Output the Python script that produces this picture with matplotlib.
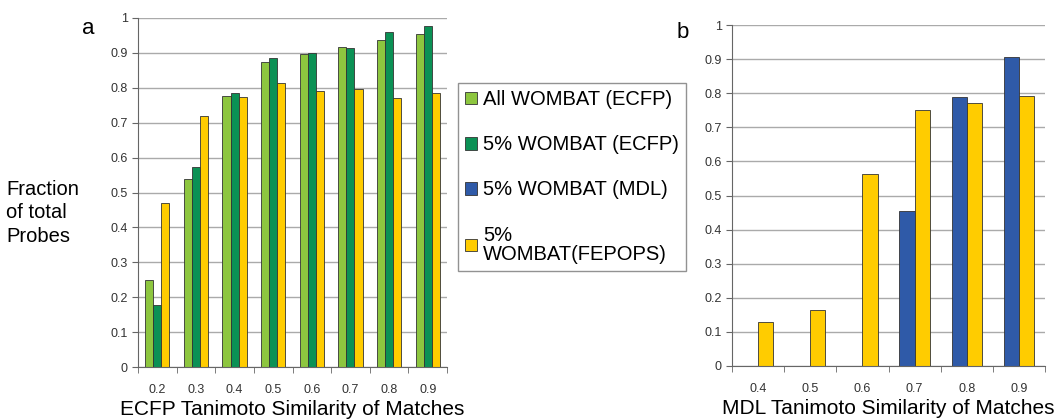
import matplotlib
matplotlib.use("Agg")
import matplotlib.pyplot as plt
import numpy as np
from matplotlib.patches import Patch

plt.rcParams['font.family'] = ['Liberation Sans', 'DejaVu Sans']

# panel a data
cats_a = ["0.2", "0.3", "0.4", "0.5", "0.6", "0.7", "0.8", "0.9"]
all_ecfp = [0.25, 0.54, 0.777, 0.875, 0.897, 0.918, 0.938, 0.955]
five_ecfp = [0.178, 0.572, 0.784, 0.885, 0.90, 0.913, 0.96, 0.978]
fepops_a = [0.47, 0.72, 0.773, 0.815, 0.79, 0.797, 0.77, 0.786]

# panel b data
cats_b = ["0.4", "0.5", "0.6", "0.7", "0.8", "0.9"]
five_mdl = [0, 0, 0, 0.455, 0.79, 0.905]
fepops_b = [0.128, 0.163, 0.563, 0.75, 0.772, 0.793]

c_light = '#8dc63f'
c_dark = '#0b9155'
c_blue = '#2f5aa8'
c_yel = '#ffcc00'
edge = '#333333'

fig = plt.figure(figsize=(10.57, 4.2), dpi=100)
W, H = 1057, 420
ax1 = fig.add_axes([138 / W, 1 - 367 / H, (447 - 138) / W, (367 - 18) / H])
ax2 = fig.add_axes([732 / W, 1 - 366 / H, (1045 - 732) / W, (366 - 25) / H])


def style(ax, n):
    ax.set_ylim(0, 1)
    ax.set_xlim(-0.5, n - 0.5)
    ax.set_yticks(np.arange(0, 1.01, 0.1))
    ax.set_yticklabels(["0", "0.1", "0.2", "0.3", "0.4", "0.5", "0.6", "0.7", "0.8", "0.9", "1"])
    ax.yaxis.grid(True, color='#aaaaaa', lw=1)
    ax.set_axisbelow(True)
    for s in ['top', 'right']:
        ax.spines[s].set_visible(False)
    ax.spines['left'].set_color('#666666')
    ax.spines['bottom'].set_color('#666666')
    ax.set_xticks(np.arange(n))
    ax.set_xticks(np.arange(n + 1) - 0.5, minor=True)
    ax.tick_params(axis='x', which='major', length=0, pad=12, labelsize=9, colors='#333333')
    ax.tick_params(axis='x', which='minor', length=4, color='#666666')
    ax.tick_params(axis='y', length=4, color='#666666', labelsize=9, colors='#333333')


x = np.arange(len(cats_a))
w = 0.21
ax1.bar(x - w, all_ecfp, w, color=c_light, edgecolor=edge, lw=0.6)
ax1.bar(x, five_ecfp, w, color=c_dark, edgecolor=edge, lw=0.6)
ax1.bar(x + w, fepops_a, w, color=c_yel, edgecolor=edge, lw=0.6)
style(ax1, len(cats_a))
ax1.set_xticklabels(cats_a)
ax1.set_xlabel("ECFP Tanimoto Similarity of Matches", fontsize=15, labelpad=3)

xb = np.arange(len(cats_b))
wb = 0.29
ax2.bar(xb - wb / 2, five_mdl, wb, color=c_blue, edgecolor=edge, lw=0.6)
ax2.bar(xb + wb / 2, fepops_b, wb, color=c_yel, edgecolor=edge, lw=0.6)
style(ax2, len(cats_b))
ax2.set_xticklabels(cats_b)
ax2.set_xlabel("MDL Tanimoto Similarity of Matches", fontsize=15, labelpad=3)

fig.text(88 / W, 1 - 28 / H, "a", fontsize=16, ha='center', va='center')
fig.text(683 / W, 1 - 33 / H, "b", fontsize=16, ha='center', va='center')
fig.text(6 / W, 1 - 213 / H, "Fraction\nof total\nProbes", fontsize=14.5, ha='left', va='center',
         linespacing=1.3)

handles = [Patch(facecolor=c_light, edgecolor=edge, lw=0.6),
           Patch(facecolor=c_dark, edgecolor=edge, lw=0.6),
           Patch(facecolor=c_blue, edgecolor=edge, lw=0.6),
           Patch(facecolor=c_yel, edgecolor=edge, lw=0.6)]
labels = ["All WOMBAT (ECFP)", "5% WOMBAT (ECFP)", "5% WOMBAT (MDL)", "5%\nWOMBAT(FEPOPS)"]
leg = fig.legend(handles, labels, loc='upper left', bbox_to_anchor=(458 / W, 1 - 83 / H),
                 fontsize=14.5, frameon=True, fancybox=False, edgecolor='#777777',
                 handlelength=0.6, handleheight=0.6, handletextpad=0.3, labelspacing=1.3,
                 borderpad=0.35, borderaxespad=0)
leg.get_frame().set_linewidth(1)
for t in leg.get_texts():
    t.set_linespacing(1.0)

fig.savefig("out.png", dpi=100)
